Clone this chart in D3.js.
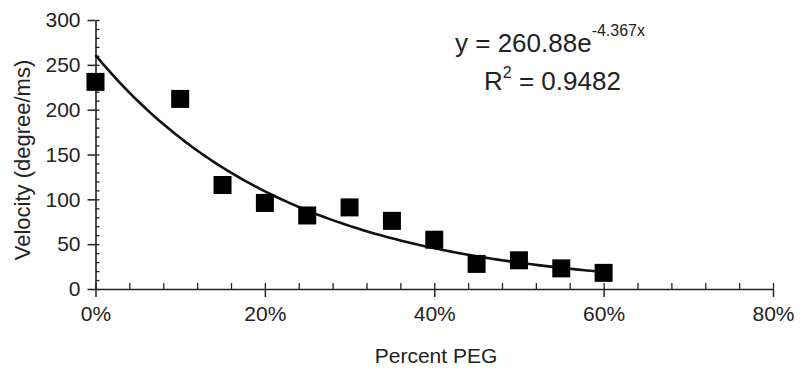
<!DOCTYPE html>
<html>
<head>
<meta charset="utf-8">
<script src="https://cdn.jsdelivr.net/npm/d3@7"></script>
<style>
  html, body { margin: 0; padding: 0; background: #fff; }
  svg { display: block; }
  text { font-family: "Liberation Sans", Arial, Helvetica, sans-serif; fill: #222; }
</style>
</head>
<body>
<svg id="chart" width="801" height="376"></svg>
<script>
// ---- data ----
const pegPercent = [0, 0.10, 0.15, 0.20, 0.25, 0.30, 0.35, 0.40, 0.45, 0.50, 0.55, 0.60];
const velocity   = [231, 212, 116, 96, 82, 91, 76, 55, 28, 32, 23, 18];
const fitCoeffs  = [260.88, -4.367];          // y = a * e^(b x)
const fitRange   = [0, 0.60];
const fitLabel   = ["y = 260.88e", "-4.367x"];
const r2Label    = ["R", "2", " = 0.9482"];
const xTicks     = [0, 0.2, 0.4, 0.6, 0.8];
const yTicks     = [0, 50, 100, 150, 200, 250, 300];
const xTitle     = "Percent PEG";
const yTitle     = "Velocity (degree/ms)";

// ---- layout ----
const svg = d3.select("#chart");
const x = d3.scaleLinear().domain([0, 0.8]).range([95.5, 773]);
const y = d3.scaleLinear().domain([0, 300]).range([289, 20]);
const ink = "#222";
const tickFont = 21;

// minor ticks
const xMinor = d3.range(0, 0.8001, 0.04);
const yMinor = d3.range(0, 300.01, 10);

// y axis: minor ticks to the right of the line
svg.append("g")
  .attr("transform", `translate(${x(0)},0)`)
  .call(d3.axisRight(y).tickValues(yMinor).tickSize(4).tickFormat(""))
  .call(g => g.select(".domain").remove())
  .call(g => g.selectAll("line").attr("stroke", ink).attr("stroke-width", 1.3));

// y axis: major ticks + labels
svg.append("g")
  .attr("transform", `translate(${x(0)},0)`)
  .call(d3.axisLeft(y).tickValues(yTicks).tickSize(8).tickSizeOuter(0).tickPadding(7).tickFormat(d3.format("d")))
  .call(g => g.select(".domain").attr("stroke", ink).attr("stroke-width", 1.6))
  .call(g => g.selectAll("line").attr("stroke", ink).attr("stroke-width", 1.5))
  .call(g => g.selectAll("text").attr("font-size", tickFont).attr("fill", ink)
      .attr("font-family", "'Liberation Sans', Arial, sans-serif"));

// x axis: minor ticks above the line
svg.append("g")
  .attr("transform", `translate(0,${y(0)})`)
  .call(d3.axisTop(x).tickValues(xMinor).tickSize(6).tickFormat(""))
  .call(g => g.select(".domain").remove())
  .call(g => g.selectAll("line").attr("stroke", ink).attr("stroke-width", 1.3));

// x axis: major ticks + labels
svg.append("g")
  .attr("transform", `translate(0,${y(0)})`)
  .call(d3.axisBottom(x).tickValues(xTicks).tickSize(8).tickSizeOuter(0).tickPadding(9).tickFormat(d3.format(".0%")))
  .call(g => g.select(".domain").attr("stroke", ink).attr("stroke-width", 1.6))
  .call(g => g.selectAll("line").attr("stroke", ink).attr("stroke-width", 1.5))
  .call(g => g.selectAll("text").attr("font-size", tickFont).attr("fill", ink)
      .attr("font-family", "'Liberation Sans', Arial, sans-serif"));

// axis titles
svg.append("text")
  .attr("x", 436).attr("y", 363)
  .attr("text-anchor", "middle")
  .attr("font-size", 21)
  .text(xTitle);

svg.append("text")
  .attr("transform", `translate(30,${160}) rotate(-90)`)
  .attr("text-anchor", "middle")
  .attr("font-size", 22)
  .text(yTitle);

// fit curve
const fitX = d3.range(fitRange[0], fitRange[1] + 1e-9, 0.005);
const fitLine = d3.line()
  .x(d => x(d))
  .y(d => y(fitCoeffs[0] * Math.exp(fitCoeffs[1] * d)))
  .curve(d3.curveLinear);
svg.append("path")
  .datum(fitX)
  .attr("d", fitLine)
  .attr("fill", "none")
  .attr("stroke", "#111")
  .attr("stroke-width", 2.6);

// data squares
const sq = 18;
svg.append("g").selectAll("rect")
  .data(pegPercent.map((p, i) => ({p, v: velocity[i]})))
  .join("rect")
  .attr("x", d => x(d.p) - sq / 2)
  .attr("y", d => y(d.v) - sq / 2)
  .attr("width", sq).attr("height", sq)
  .attr("fill", "#000");

// equation annotation
const eq = svg.append("text")
  .attr("x", 455).attr("y", 52)
  .attr("font-size", 26);
eq.append("tspan").text(fitLabel[0]);
eq.append("tspan").attr("dy", -16).attr("font-size", 16).text(fitLabel[1]);

const r2 = svg.append("text")
  .attr("x", 484).attr("y", 90)
  .attr("font-size", 26);
r2.append("tspan").text(r2Label[0]);
r2.append("tspan").attr("dy", -12).attr("font-size", 16).text(r2Label[1]);
r2.append("tspan").attr("dy", 12).text(r2Label[2]);
</script>
</body>
</html>
